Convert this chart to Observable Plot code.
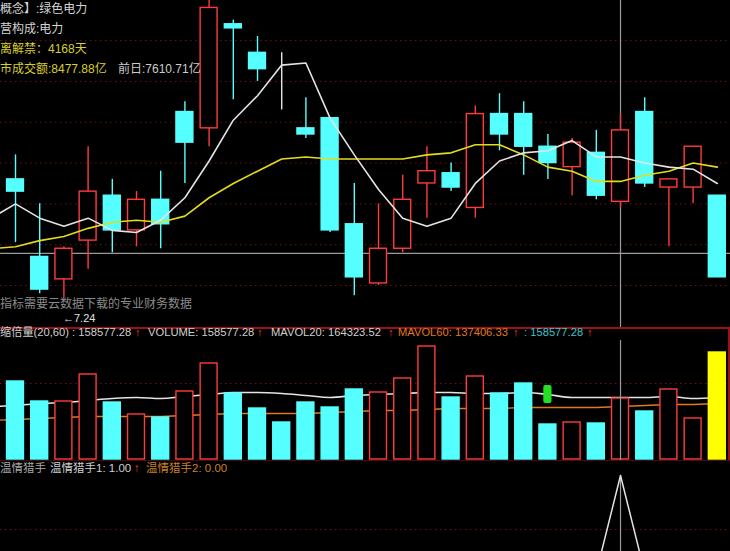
<!DOCTYPE html>
<html><head><meta charset="utf-8">
<script src="https://cdn.jsdelivr.net/npm/d3@7"></script>
<script src="https://cdn.jsdelivr.net/npm/@observablehq/plot@0.6"></script>
<style>
html,body{margin:0;padding:0;background:#000;}
#wrap{position:relative;width:730px;height:551px;overflow:hidden;background:#000;font-family:"Liberation Sans","Noto Sans CJK SC",sans-serif;}
.t{position:absolute;white-space:nowrap;line-height:1;}
.panel{position:absolute;left:0;}
.panel svg{display:block;}
.sep{position:absolute;}
</style></head><body><div id="wrap"></div>
<script>
// ---------- data ----------
const opens  = [7.82,7.44,7.33,7.52,7.74,7.57,7.72,8.15,8.07,8.58,8.44,8.34,8.07,8.12,7.60,7.31,7.48,7.80,7.85,7.68,8.14,8.14,7.98,7.88,7.95,7.71,8.15,7.78,7.78,7.74];
const highs  = [7.94,7.70,7.49,7.98,7.82,7.76,7.86,8.20,8.71,8.60,8.52,8.44,8.22,8.12,7.80,7.70,7.84,7.98,7.90,8.18,8.24,8.20,8.04,8.02,8.06,8.14,8.22,7.82,7.98,7.74];
const lows   = [7.51,7.26,7.24,7.38,7.46,7.49,7.48,7.80,7.98,8.21,8.30,8.16,8.02,7.56,7.25,7.30,7.46,7.63,7.76,7.63,7.96,7.84,7.82,7.74,7.72,7.68,7.78,7.49,7.70,7.34];
const closes = [7.76,7.28,7.48,7.76,7.57,7.72,7.60,8.00,8.66,8.56,8.36,8.34,8.04,7.57,7.34,7.48,7.72,7.86,7.78,8.14,8.04,7.98,7.90,8.00,7.74,8.06,7.80,7.82,7.98,7.34];
const prevClose = 7.80; // close of the day before the first visible candle
// moving averages, index 0 = day before first visible candle
const ma5  = [7.63,7.70,7.63,7.59,7.63,7.57,7.56,7.62,7.73,7.91,8.11,8.23,8.38,8.39,8.12,7.94,7.77,7.63,7.59,7.63,7.80,7.91,7.95,7.96,8.01,7.93,7.93,7.90,7.88,7.87,7.80];
const ma20 = [7.48,7.49,7.52,7.54,7.58,7.61,7.62,7.61,7.64,7.73,7.80,7.86,7.92,7.93,7.92,7.92,7.92,7.92,7.94,7.95,7.99,7.99,7.94,7.88,7.86,7.81,7.81,7.84,7.86,7.90,7.88];
const priceGrid = [7.30,7.50,7.70,7.90,8.10,8.30,8.50];
const crossPrice = 7.457;
const crossIndex = 26;
const lowLabel = "←7.24";

const volumes = [156000,116000,116000,170000,114000,90000,84000,136000,192000,132000,102000,74000,114000,104000,140000,134000,162000,226000,124000,166000,132000,152000,70000,74000,72000,122000,96000,140000,82000,214000];
const mavol20 = [106000,108000,112000,114000,118000,122000,124000,122000,126000,130000,134000,134000,132000,128000,124000,128000,130000,132000,134000,134000,132000,132000,134000,130000,124000,124000,124000,124000,126000,122000,124000];
const mavol60 = [78000,80000,82000,84000,86000,86000,86000,86000,88000,90000,92000,92000,92000,92000,94000,96000,98000,98000,100000,102000,102000,102000,104000,104000,104000,104000,106000,108000,110000,110000,112000];
const volGrid = [152000];
const highlightBar = 30;
const signalMarks = [{i: 23, lo: 112000, hi: 148000}];

const hunter1 = [0,0,0,0,0,0,0,0,0,0,0,0,0,0,0,0,0,0,0,0,0,0,0,0,0,1,0,0,0,0];
const hunter2 = [0,0,0,0,0,0,0,0,0,0,0,0,0,0,0,0,0,0,0,0,0,0,0,0,0,0,0,0,0,0];
const hunterGrid = [0.443];

// ---------- styles ----------
const RED = "#ff3b3b", CYAN = "#55ffff", WHITE = "#e4e4e4", YEL = "#e2dc1c", ORANGE = "#e07a1a";
const GRID = "#6e1212", CROSS = "#9a9a9a";
const W = 730;
const xDomain = [0.38, 30.545];
const HALF = 0.35;

const idx = d3.range(1, 31);
const candles = idx.map((i, k) => ({i, open: opens[k], high: highs[k], low: lows[k], close: closes[k]}));
const dir = d => d.close > d.open ? "up" : d.close < d.open ? "down" : "flat";
const cColor = d => dir(d) === "up" ? RED : dir(d) === "down" ? CYAN : WHITE;
const maPts = arr => arr.map((v, k) => ({i: k, v}));

const wrap = document.getElementById("wrap");
function addPanel(svg, top) {
  const d = document.createElement("div");
  d.className = "panel"; d.style.top = top + "px";
  d.appendChild(svg); wrap.appendChild(d);
}
function addText(txt, left, cy, color, size) {
  const s = document.createElement("span");
  s.className = "t"; s.textContent = txt;
  s.style.left = left + "px"; s.style.top = (cy - size / 2 - 1) + "px";
  s.style.color = color; s.style.fontSize = size + "px";
  wrap.appendChild(s);
}
function addSep(left, top, w, h, color) {
  const s = document.createElement("div");
  s.className = "sep";
  Object.assign(s.style, {left: left + "px", top: top + "px", width: w + "px", height: h + "px", background: color});
  wrap.appendChild(s);
}

// ---------- main price panel ----------
const main = Plot.plot({
  width: W, height: 327,
  marginTop: 0, marginRight: 0, marginBottom: 0, marginLeft: 0,
  style: {background: "transparent"},
  x: {domain: xDomain, axis: null},
  y: {domain: [7.0942, 8.6965], axis: null},
  color: {type: "identity"},
  marks: [
    Plot.ruleY(priceGrid, {stroke: GRID, strokeDasharray: "1.5,3.5", strokeWidth: 1}),
    Plot.ruleY([crossPrice], {stroke: CROSS, strokeWidth: 1.2}),
    Plot.ruleX([crossIndex], {stroke: CROSS, strokeWidth: 1.2}),
    Plot.ruleX(candles, {x: "i", y1: "low", y2: "high", stroke: cColor, strokeWidth: 1.4}),
    Plot.rect(candles, {x1: d => d.i - HALF, x2: d => d.i + HALF, y1: "open", y2: "close",
      fill: d => dir(d) === "down" ? CYAN : "#000", stroke: cColor, strokeWidth: 1.4}),
    Plot.line(maPts(ma20), {x: "i", y: "v", stroke: YEL, strokeWidth: 1.6, clip: true}),
    Plot.line(maPts(ma5), {x: "i", y: "v", stroke: WHITE, strokeWidth: 1.6, clip: true})
  ]
});
addPanel(main, 0);

// ---------- volume panel ----------
let pc = prevClose;
const vols = idx.map((i, k) => {
  const up = closes[k] >= pc; pc = closes[k];
  return {i, v: volumes[k], up, hi: i === highlightBar};
});
const volPlot = Plot.plot({
  width: W, height: 120,
  marginTop: 0, marginRight: 0, marginBottom: 0, marginLeft: 0,
  style: {background: "transparent"},
  x: {domain: xDomain, axis: null},
  y: {domain: [-2000, 238000], axis: null},
  color: {type: "identity"},
  marks: [
    Plot.ruleY(volGrid, {stroke: GRID, strokeDasharray: "1.5,3.5", strokeWidth: 1}),
    Plot.line(maPts(mavol60), {x: "i", y: "v", stroke: ORANGE, strokeWidth: 1.3, clip: true}),
    Plot.line(maPts(mavol20), {x: "i", y: "v", stroke: WHITE, strokeWidth: 1.6, clip: true, curve: "monotone-x"}),
    Plot.rect(vols, {x1: d => d.i - HALF, x2: d => d.i + HALF, y1: 0, y2: "v",
      fill: d => d.hi ? "#ffff00" : d.up ? "#000" : CYAN,
      stroke: d => d.hi ? "#ffff00" : d.up ? RED : CYAN, strokeWidth: 1.4}),
    Plot.rect(signalMarks, {x1: d => d.i - 0.17, x2: d => d.i + 0.17, y1: "lo", y2: "hi", fill: "#22e022", rx: 2}),
    Plot.ruleX([crossIndex], {stroke: CROSS, strokeWidth: 1.2})
  ]
});
addPanel(volPlot, 340);

// ---------- bottom indicator panel ----------
const hunterPlot = Plot.plot({
  width: W, height: 91,
  marginTop: 0, marginRight: 0, marginBottom: 0, marginLeft: 0,
  style: {background: "transparent"},
  x: {domain: xDomain, axis: null},
  y: {domain: [0.2165, 1.155], axis: null},
  marks: [
    Plot.ruleY(hunterGrid, {stroke: GRID, strokeDasharray: "1.5,3.5", strokeWidth: 1}),
    Plot.ruleX([crossIndex], {y1: 0.2165, y2: 1, stroke: CROSS, strokeWidth: 1.2}),
    Plot.line(idx.map((i, k) => ({i, v: hunter2[k]})), {x: "i", y: "v", stroke: ORANGE, strokeWidth: 1.3, clip: true}),
    Plot.line(idx.map((i, k) => ({i, v: hunter1[k]})), {x: "i", y: "v", stroke: WHITE, strokeWidth: 1.5, clip: true})
  ]
});
addPanel(hunterPlot, 460);

// ---------- separators ----------
addSep(0, 327, 730, 1.5, "#9a1212");
addSep(728, 328, 1.5, 132, "#9a1212");
addSep(0, 460, 730, 1, "#4a0a0a");

// ---------- texts ----------
const GRAYT = "#d4d4d4", YELT = "#d8ce2c";
addText("概念】:绿色电力", 0, 10, GRAYT, 12);
addText("营构成:电力", 0, 30, GRAYT, 12);
addText("离解禁：4168天", 0, 50, YELT, 12);
addText("市成交额:8477.88亿", 0, 70, YELT, 12);
addText("前日:7610.71亿", 118, 70, "#cccccc", 12);
addText("指标需要云数据下载的专业财务数据", 0, 305, "#8a8a8a", 12);
addText(lowLabel, 63, 319, "#e0e0e0", 11);

addText("缩倍量(20,60) : 158577.28", 0, 334, "#cfcfcf", 11.2);
addText("↑", 135, 334, RED, 11.2);
addText("VOLUME: 158577.28", 148, 334, "#cfcfcf", 11.2);
addText("↑", 257, 334, RED, 11.2);
addText("MAVOL20: 164323.52", 271, 334, "#cfcfcf", 11.2);
addText("↑", 388, 334, RED, 11.2);
addText("MAVOL60: 137406.33", 398, 334, ORANGE, 11.2);
addText("↑", 513, 334, RED, 11.2);
addText(": 158577.28", 524, 334, "#3cc4d0", 11.2);
addText("↑", 587, 334, RED, 11.2);

addText("温情猎手", 0, 470, "#a8a8a8", 11.5);
addText("温情猎手1: 1.00", 50, 470, "#d0d0d0", 11.5);
addText("↑", 134, 470, RED, 11.5);
addText("温情猎手2: 0.00", 146, 470, "#c8802a", 11.5);
</script></body></html>
